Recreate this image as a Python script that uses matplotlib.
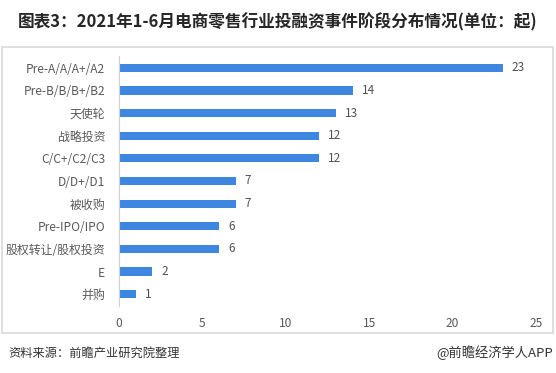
import matplotlib.pyplot as plt
from matplotlib.patches import Rectangle

plt.rcParams['font.family'] = ['Noto Sans CJK SC', 'DejaVu Sans']

# data (top to bottom as in the chart)
stages = ['Pre-A/A/A+/A2', 'Pre-B/B/B+/B2', '天使轮', '战略投资', 'C/C+/C2/C3',
          'D/D+/D1', '被收购', 'Pre-IPO/IPO', '股权转让/股权投资', 'E', '并购']
counts = [23, 14, 13, 12, 12, 7, 7, 6, 6, 2, 1]
xticks = [0, 5, 10, 15, 20, 25]

W, H = 556, 373
fig = plt.figure(figsize=(W / 100, H / 100), dpi=100)

# light frame around chart area
fig.patches.append(Rectangle((2 / W, 1 - 333 / H), 551 / W, 286 / H,
                             transform=fig.transFigure, fill=False,
                             edgecolor='#d9d9d9', linewidth=1.2))

ax = fig.add_axes([119 / W, 1 - 305.5 / H, 417 / W, 249 / H])
pos = list(range(len(stages)))
ax.barh(pos, counts, height=0.36, color='#3f86e0')
for p, v in zip(pos, counts):
    ax.text(v + 0.55, p, str(v), va='center', ha='left', fontsize=8.5, color='#505050')

ax.set_ylim(len(stages) - 0.5, -0.5)
ax.set_xlim(0, 25)
ax.set_xticks(xticks)
ax.set_yticks(pos)
ax.set_yticklabels(stages)
for s in ['top', 'right', 'bottom']:
    ax.spines[s].set_visible(False)
ax.spines['left'].set_color('#d0d0d0')
ax.tick_params(axis='both', length=0, labelsize=8.6, labelcolor='#595959')
ax.tick_params(axis='y', pad=10)
ax.tick_params(axis='x', pad=8)

fig.text(0.5, 1 - 22 / H, '图表3：2021年1-6月电商零售行业投融资事件阶段分布情况(单位：起)',
         ha='center', va='center', fontsize=12, fontweight='bold', color='#262626')
fig.text(8 / W, 1 - 353 / H, '资料来源：前瞻产业研究院整理', ha='left', va='center',
         fontsize=8.8, color='#333333')
fig.text(553 / W, 1 - 353 / H, '@前瞻经济学人APP', ha='right', va='center',
         fontsize=9.5, color='#333333')

fig.savefig('out.png', dpi=100)
